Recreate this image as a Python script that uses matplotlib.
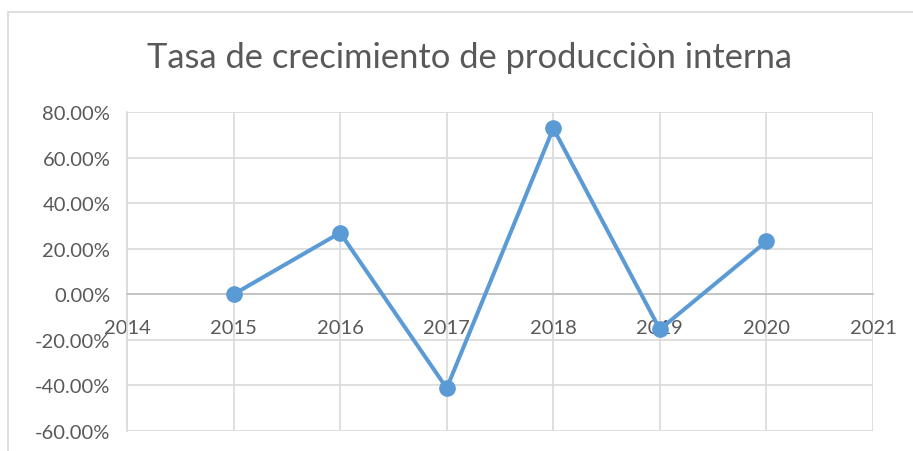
import matplotlib
matplotlib.use('Agg')
import matplotlib.pyplot as plt
from matplotlib.patches import Rectangle
from matplotlib.ticker import FuncFormatter

# data
years = [2015, 2016, 2017, 2018, 2019, 2020]
growth = [0.0, 27.0, -41.2, 72.8, -15.4, 23.2]
x_ticks = [2014, 2015, 2016, 2017, 2018, 2019, 2020, 2021]
y_ticks = [-60, -40, -20, 0, 20, 40, 60, 80]

plt.rcParams['font.family'] = ['Lato', 'DejaVu Sans']
text_col = '#595959'
grid_col = '#d9d9d9'

fig = plt.figure(figsize=(9.13, 4.52), dpi=100)
ax = fig.add_axes([0.1391, 0.0442, 0.8171, 0.7058])

# chart area border
fig.patches.append(Rectangle((8 / 913, -0.1), 1.2, 1.1 - 13 / 452, transform=fig.transFigure,
                             fill=False, edgecolor=grid_col, linewidth=1.2))

ax.plot(years, growth, color='#5b9bd5', linewidth=2.9, marker='o', markersize=11, zorder=3)

ax.set_xlim(2014, 2021)
ax.set_ylim(-60, 80)
ax.set_xticks(x_ticks)
ax.set_yticks(y_ticks)
ax.yaxis.set_major_formatter(FuncFormatter(lambda v, p: '%.2f%%' % v))
ax.grid(True, color=grid_col, linewidth=1.2)
ax.set_axisbelow(True)

for s in ['top', 'right']:
    ax.spines[s].set_visible(False)
ax.spines['left'].set_color(grid_col)
ax.spines['left'].set_linewidth(1.2)
ax.spines['bottom'].set_position(('data', 0))
ax.spines['bottom'].set_color('#bfbfbf')
ax.spines['bottom'].set_linewidth(1.2)

ax.tick_params(axis='both', length=0, labelsize=14.5, labelcolor=text_col)
ax.tick_params(axis='y', pad=12)
ax.tick_params(axis='x', pad=18)

fig.text(0.514, 0.872, 'Tasa de crecimiento de producciòn interna', ha='center', va='center',
         fontsize=24.8, color=text_col)

fig.savefig('out.png', dpi=100)
